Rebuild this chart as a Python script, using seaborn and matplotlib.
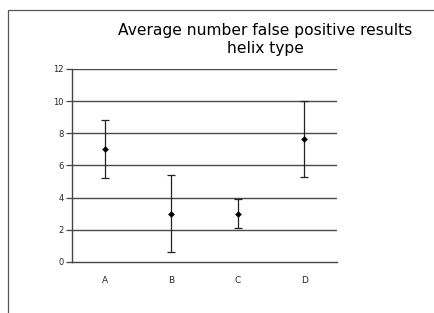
import matplotlib
matplotlib.use('Agg')
import matplotlib.pyplot as plt
import seaborn as sns
from matplotlib.patches import Rectangle

helix = ['A', 'B', 'C', 'D']
mean_fp = [7.0, 3.0, 3.0, 7.65]
err_fp = [1.8, 2.4, 0.9, 2.35]
y_ticks = [0, 2, 4, 6, 8, 10, 12]

sns.set_style('white')
plt.rcParams['font.family'] = ['DejaVu Sans']

fig = plt.figure(figsize=(4.34, 3.13), dpi=100)
ax = fig.add_axes([0.166, 0.163, 0.611, 0.617])

# outer frame like the spreadsheet chart area
fig.patches.append(Rectangle((8 / 434, -0.1), 1.2, 1 - 10 / 313 + 0.1,
                             transform=fig.transFigure, fill=False,
                             edgecolor='#555555', linewidth=0.9))

for y in y_ticks[1:]:
    ax.axhline(y, color='#4a4a4a', linewidth=1.0, zorder=1)

ax.errorbar(helix, mean_fp, yerr=err_fp, fmt='none', ecolor='#222222',
            elinewidth=0.9, capsize=3, capthick=0.9, zorder=3)
sns.scatterplot(x=helix, y=mean_fp, marker='D', s=10, color='black',
                edgecolor='black', ax=ax, zorder=4)

ax.set_xlim(-0.5, 3.5)
ax.set_ylim(0, 12)
ax.set_yticks(y_ticks)
ax.set_yticklabels([str(v) for v in y_ticks], fontsize=6)
ax.set_xticks(range(len(helix)))
ax.set_xticklabels(helix, fontsize=6.5)
ax.set_xticks([i - 0.5 for i in range(len(helix) + 1)], minor=True)
ax.tick_params(axis='x', which='major', length=0, pad=10)
ax.tick_params(axis='x', which='minor', length=4, width=0.9, color='#444444', direction='out')
ax.tick_params(axis='y', length=4, width=0.9, color='#444444', direction='out', pad=2, left=True)

for side in ['top', 'right']:
    ax.spines[side].set_visible(False)
for side in ['left', 'bottom']:
    ax.spines[side].set_color('#444444')
    ax.spines[side].set_linewidth(1.0)

fig.text(0.612, 0.928, 'Average number false positive results\nhelix type',
         ha='center', va='top', fontsize=11.2, linespacing=1.25, color='black')

fig.savefig('out.png', dpi=100)
